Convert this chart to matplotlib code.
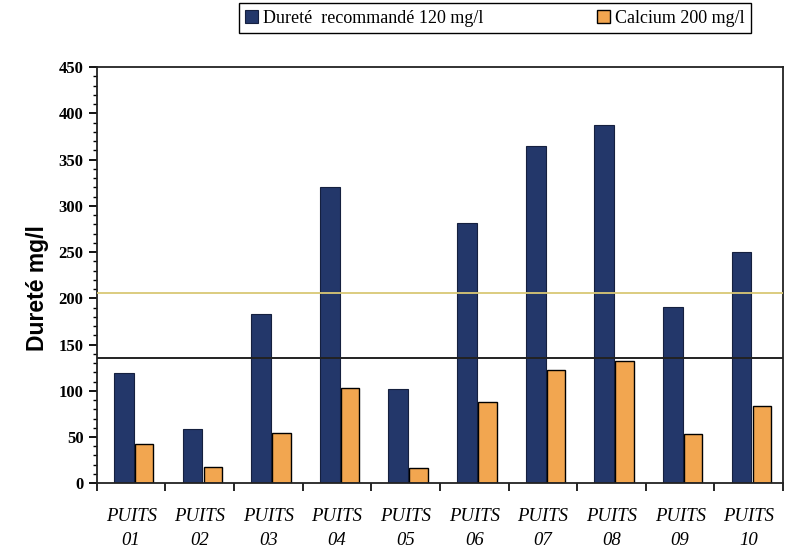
import numpy as np
import matplotlib.pyplot as plt
from matplotlib.ticker import MultipleLocator

puits = ['PUITS\n01', 'PUITS\n02', 'PUITS\n03', 'PUITS\n04', 'PUITS\n05',
         'PUITS\n06', 'PUITS\n07', 'PUITS\n08', 'PUITS\n09', 'PUITS\n10']
durete = [119, 59, 183, 320, 102, 282, 365, 387, 191, 250]
calcium = [42, 18, 54, 103, 16, 88, 123, 132, 53, 83]
seuil_durete = 136
seuil_calcium = 206

bleu = '#23376a'
orange = '#f2a650'

fig = plt.figure(figsize=(7.87, 5.51), dpi=100)
ax = fig.add_axes([0.123, 0.123, 0.872, 0.755])

x = np.arange(len(puits))
b1 = ax.bar(x - 0.105, durete, width=0.29, color=bleu, edgecolor='#15203f', linewidth=0.8,
            label='Dureté  recommandé 120 mg/l', zorder=2)
b2 = ax.bar(x + 0.19, calcium, width=0.27, color=orange, edgecolor='black', linewidth=1.0,
            label='Calcium 200 mg/l', zorder=2)

# lignes de seuil
ax.axhline(seuil_calcium, color='#d9c875', lw=1.3, zorder=3)
ax.axhline(seuil_durete, color='#222222', lw=1.4, zorder=3)

ax.set_xlim(-0.5, 9.5)
ax.set_ylim(0, 450)
ax.yaxis.set_major_locator(MultipleLocator(50))
ax.yaxis.set_minor_locator(MultipleLocator(10))
ax.set_xticks(np.arange(-0.5, 10, 1), minor=True)
ax.set_xticks(x)
ax.set_xticklabels(puits, fontfamily='Liberation Serif', fontstyle='italic', fontsize=13.5,
                   linespacing=1.55)
ax.tick_params(axis='x', which='major', length=0, pad=18)
ax.tick_params(axis='x', which='minor', length=6, width=1.2, direction='out')
ax.tick_params(axis='y', which='major', length=6, width=1.3, direction='out')
ax.tick_params(axis='y', which='minor', length=3, width=1, direction='out')
for lab in ax.get_yticklabels():
    lab.set_fontfamily('Liberation Serif')
    lab.set_fontweight('bold')
    lab.set_fontsize(12)

for s in ax.spines.values():
    s.set_linewidth(1.3)
    s.set_color('#222222')

ax.set_ylabel('Dureté mg/l', fontfamily='Liberation Sans', fontweight='bold', fontsize=16.5)
ax.yaxis.set_label_coords(-0.07, 0.47)

fig.legend(handles=[b1, b2], loc='center', bbox_to_anchor=(0.629, 0.967), ncol=2,
           prop={'family': 'Liberation Serif', 'size': 13}, frameon=True, fancybox=False,
           edgecolor='black', framealpha=1, handlelength=0.7, handleheight=0.7,
           handletextpad=0.3, columnspacing=6.3, borderpad=0.35, borderaxespad=0)

fig.savefig('out.png', dpi=100)
